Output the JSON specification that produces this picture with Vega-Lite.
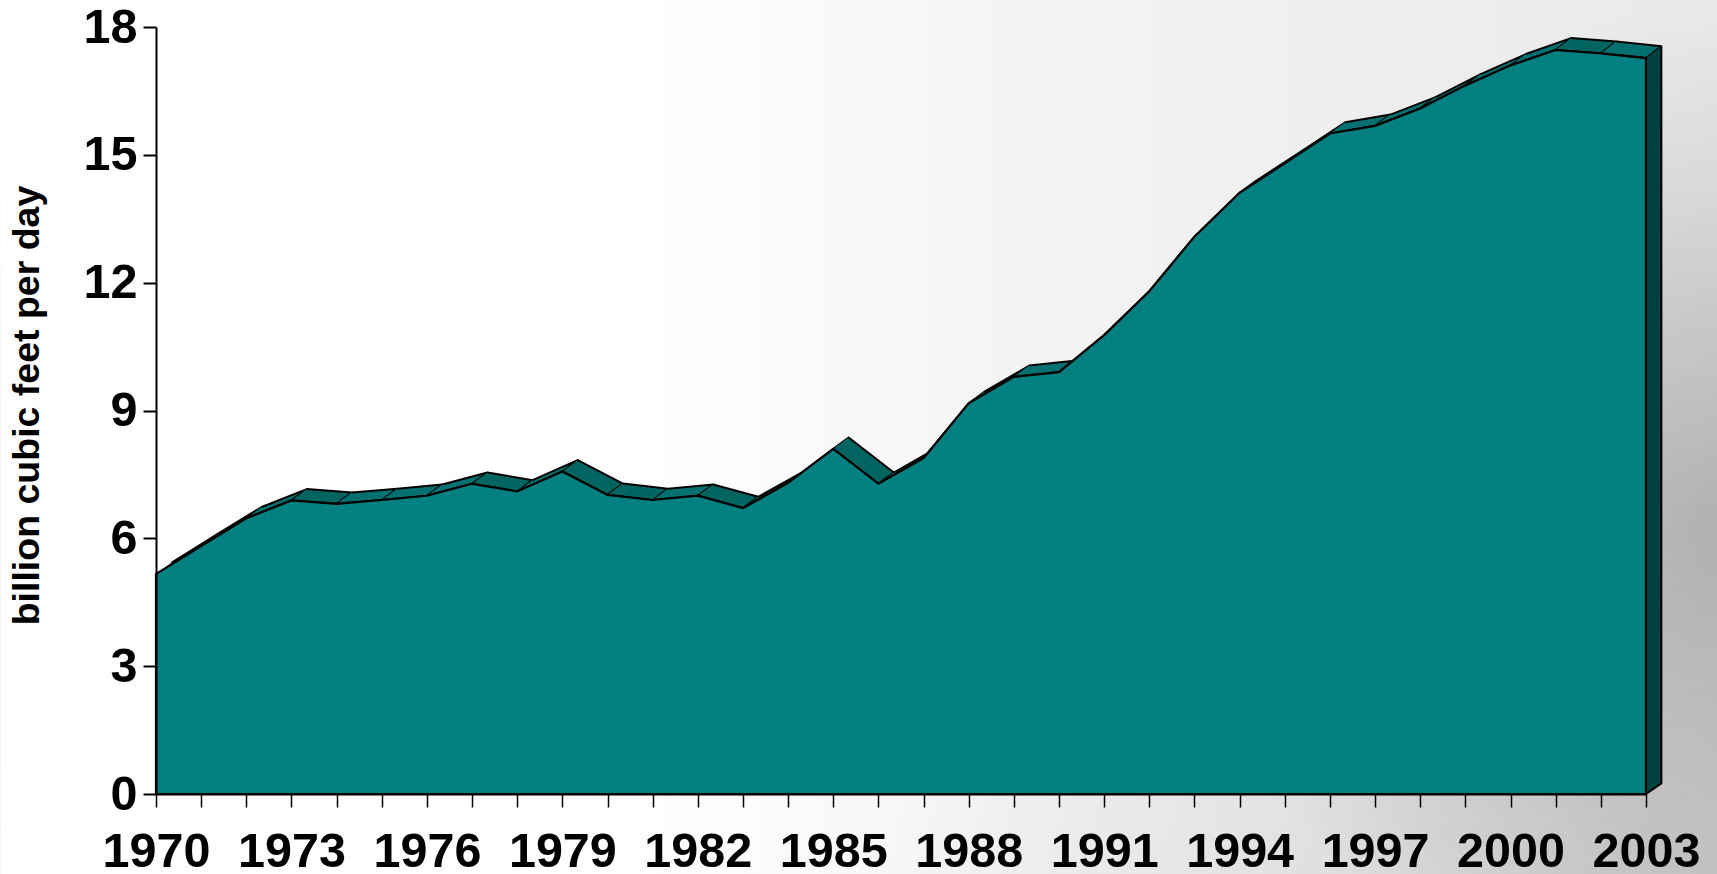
{"$schema":"https://vega.github.io/schema/vega-lite/v6.json","autosize":"none","width":1490,"height":767,"padding":{"left":156,"top":27,"right":71,"bottom":80},"background":"white","config":{"view":{"stroke":null},"font":"Liberation Sans"},
"datasets":{
"bg":[{"x0":1966.55,"x1":2004.58,"y0":-1.88,"y1":18.64}],
"gas":[{"year":1970,"value":5.16},{"year":1971,"value":5.82},{"year":1972,"value":6.47},{"year":1973,"value":6.89},{"year":1974,"value":6.81},{"year":1975,"value":6.9},{"year":1976,"value":7.0},{"year":1977,"value":7.28},{"year":1978,"value":7.1},{"year":1979,"value":7.57},{"year":1980,"value":7.02},{"year":1981,"value":6.9},{"year":1982,"value":7.0},{"year":1983,"value":6.71},{"year":1984,"value":7.3},{"year":1985,"value":8.1},{"year":1986,"value":7.28},{"year":1987,"value":7.88},{"year":1988,"value":9.17},{"year":1989,"value":9.79},{"year":1990,"value":9.9},{"year":1991,"value":10.77},{"year":1992,"value":11.8},{"year":1993,"value":13.08},{"year":1994,"value":14.11},{"year":1995,"value":14.8},{"year":1996,"value":15.5},{"year":1997,"value":15.68},{"year":1998,"value":16.09},{"year":1999,"value":16.63},{"year":2000,"value":17.1},{"year":2001,"value":17.46},{"year":2002,"value":17.38},{"year":2003,"value":17.27}],
"faces":[
{"s":1970,"o":1,"x":1970,"y":5.16,"f":"up"},{"s":1970,"o":2,"x":1971,"y":5.82,"f":"up"},{"s":1970,"o":3,"x":1971.34,"y":6.085,"f":"up"},{"s":1970,"o":4,"x":1970.34,"y":5.425,"f":"up"},
{"s":1971,"o":1,"x":1971,"y":5.82,"f":"up"},{"s":1971,"o":2,"x":1972,"y":6.47,"f":"up"},{"s":1971,"o":3,"x":1972.34,"y":6.735,"f":"up"},{"s":1971,"o":4,"x":1971.34,"y":6.085,"f":"up"},
{"s":1972,"o":1,"x":1972,"y":6.47,"f":"up"},{"s":1972,"o":2,"x":1973,"y":6.89,"f":"up"},{"s":1972,"o":3,"x":1973.34,"y":7.155,"f":"up"},{"s":1972,"o":4,"x":1972.34,"y":6.735,"f":"up"},
{"s":1973,"o":1,"x":1973,"y":6.89,"f":"down"},{"s":1973,"o":2,"x":1974,"y":6.81,"f":"down"},{"s":1973,"o":3,"x":1974.34,"y":7.075,"f":"down"},{"s":1973,"o":4,"x":1973.34,"y":7.155,"f":"down"},
{"s":1974,"o":1,"x":1974,"y":6.81,"f":"up"},{"s":1974,"o":2,"x":1975,"y":6.9,"f":"up"},{"s":1974,"o":3,"x":1975.34,"y":7.165,"f":"up"},{"s":1974,"o":4,"x":1974.34,"y":7.075,"f":"up"},
{"s":1975,"o":1,"x":1975,"y":6.9,"f":"up"},{"s":1975,"o":2,"x":1976,"y":7.0,"f":"up"},{"s":1975,"o":3,"x":1976.34,"y":7.265,"f":"up"},{"s":1975,"o":4,"x":1975.34,"y":7.165,"f":"up"},
{"s":1976,"o":1,"x":1976,"y":7.0,"f":"up"},{"s":1976,"o":2,"x":1977,"y":7.28,"f":"up"},{"s":1976,"o":3,"x":1977.34,"y":7.545,"f":"up"},{"s":1976,"o":4,"x":1976.34,"y":7.265,"f":"up"},
{"s":1977,"o":1,"x":1977,"y":7.28,"f":"down"},{"s":1977,"o":2,"x":1978,"y":7.1,"f":"down"},{"s":1977,"o":3,"x":1978.34,"y":7.365,"f":"down"},{"s":1977,"o":4,"x":1977.34,"y":7.545,"f":"down"},
{"s":1978,"o":1,"x":1978,"y":7.1,"f":"up"},{"s":1978,"o":2,"x":1979,"y":7.57,"f":"up"},{"s":1978,"o":3,"x":1979.34,"y":7.835,"f":"up"},{"s":1978,"o":4,"x":1978.34,"y":7.365,"f":"up"},
{"s":1979,"o":1,"x":1979,"y":7.57,"f":"down"},{"s":1979,"o":2,"x":1980,"y":7.02,"f":"down"},{"s":1979,"o":3,"x":1980.34,"y":7.285,"f":"down"},{"s":1979,"o":4,"x":1979.34,"y":7.835,"f":"down"},
{"s":1980,"o":1,"x":1980,"y":7.02,"f":"down"},{"s":1980,"o":2,"x":1981,"y":6.9,"f":"down"},{"s":1980,"o":3,"x":1981.34,"y":7.165,"f":"down"},{"s":1980,"o":4,"x":1980.34,"y":7.285,"f":"down"},
{"s":1981,"o":1,"x":1981,"y":6.9,"f":"up"},{"s":1981,"o":2,"x":1982,"y":7.0,"f":"up"},{"s":1981,"o":3,"x":1982.34,"y":7.265,"f":"up"},{"s":1981,"o":4,"x":1981.34,"y":7.165,"f":"up"},
{"s":1982,"o":1,"x":1982,"y":7.0,"f":"down"},{"s":1982,"o":2,"x":1983,"y":6.71,"f":"down"},{"s":1982,"o":3,"x":1983.34,"y":6.975,"f":"down"},{"s":1982,"o":4,"x":1982.34,"y":7.265,"f":"down"},
{"s":1983,"o":1,"x":1983,"y":6.71,"f":"up"},{"s":1983,"o":2,"x":1984,"y":7.3,"f":"up"},{"s":1983,"o":3,"x":1984.34,"y":7.565,"f":"up"},{"s":1983,"o":4,"x":1983.34,"y":6.975,"f":"up"},
{"s":1984,"o":1,"x":1984,"y":7.3,"f":"up"},{"s":1984,"o":2,"x":1985,"y":8.1,"f":"up"},{"s":1984,"o":3,"x":1985.34,"y":8.365,"f":"up"},{"s":1984,"o":4,"x":1984.34,"y":7.565,"f":"up"},
{"s":1985,"o":1,"x":1985,"y":8.1,"f":"down"},{"s":1985,"o":2,"x":1986,"y":7.28,"f":"down"},{"s":1985,"o":3,"x":1986.34,"y":7.545,"f":"down"},{"s":1985,"o":4,"x":1985.34,"y":8.365,"f":"down"},
{"s":1986,"o":1,"x":1986,"y":7.28,"f":"up"},{"s":1986,"o":2,"x":1987,"y":7.88,"f":"up"},{"s":1986,"o":3,"x":1987.34,"y":8.145,"f":"up"},{"s":1986,"o":4,"x":1986.34,"y":7.545,"f":"up"},
{"s":1987,"o":1,"x":1987,"y":7.88,"f":"up"},{"s":1987,"o":2,"x":1988,"y":9.17,"f":"up"},{"s":1987,"o":3,"x":1988.34,"y":9.435,"f":"up"},{"s":1987,"o":4,"x":1987.34,"y":8.145,"f":"up"},
{"s":1988,"o":1,"x":1988,"y":9.17,"f":"up"},{"s":1988,"o":2,"x":1989,"y":9.79,"f":"up"},{"s":1988,"o":3,"x":1989.34,"y":10.055,"f":"up"},{"s":1988,"o":4,"x":1988.34,"y":9.435,"f":"up"},
{"s":1989,"o":1,"x":1989,"y":9.79,"f":"up"},{"s":1989,"o":2,"x":1990,"y":9.9,"f":"up"},{"s":1989,"o":3,"x":1990.34,"y":10.165,"f":"up"},{"s":1989,"o":4,"x":1989.34,"y":10.055,"f":"up"},
{"s":1990,"o":1,"x":1990,"y":9.9,"f":"up"},{"s":1990,"o":2,"x":1991,"y":10.77,"f":"up"},{"s":1990,"o":3,"x":1991.34,"y":11.035,"f":"up"},{"s":1990,"o":4,"x":1990.34,"y":10.165,"f":"up"},
{"s":1991,"o":1,"x":1991,"y":10.77,"f":"up"},{"s":1991,"o":2,"x":1992,"y":11.8,"f":"up"},{"s":1991,"o":3,"x":1992.34,"y":12.065,"f":"up"},{"s":1991,"o":4,"x":1991.34,"y":11.035,"f":"up"},
{"s":1992,"o":1,"x":1992,"y":11.8,"f":"up"},{"s":1992,"o":2,"x":1993,"y":13.08,"f":"up"},{"s":1992,"o":3,"x":1993.34,"y":13.345,"f":"up"},{"s":1992,"o":4,"x":1992.34,"y":12.065,"f":"up"},
{"s":1993,"o":1,"x":1993,"y":13.08,"f":"up"},{"s":1993,"o":2,"x":1994,"y":14.11,"f":"up"},{"s":1993,"o":3,"x":1994.34,"y":14.375,"f":"up"},{"s":1993,"o":4,"x":1993.34,"y":13.345,"f":"up"},
{"s":1994,"o":1,"x":1994,"y":14.11,"f":"up"},{"s":1994,"o":2,"x":1995,"y":14.8,"f":"up"},{"s":1994,"o":3,"x":1995.34,"y":15.065,"f":"up"},{"s":1994,"o":4,"x":1994.34,"y":14.375,"f":"up"},
{"s":1995,"o":1,"x":1995,"y":14.8,"f":"up"},{"s":1995,"o":2,"x":1996,"y":15.5,"f":"up"},{"s":1995,"o":3,"x":1996.34,"y":15.765,"f":"up"},{"s":1995,"o":4,"x":1995.34,"y":15.065,"f":"up"},
{"s":1996,"o":1,"x":1996,"y":15.5,"f":"up"},{"s":1996,"o":2,"x":1997,"y":15.68,"f":"up"},{"s":1996,"o":3,"x":1997.34,"y":15.945,"f":"up"},{"s":1996,"o":4,"x":1996.34,"y":15.765,"f":"up"},
{"s":1997,"o":1,"x":1997,"y":15.68,"f":"up"},{"s":1997,"o":2,"x":1998,"y":16.09,"f":"up"},{"s":1997,"o":3,"x":1998.34,"y":16.355,"f":"up"},{"s":1997,"o":4,"x":1997.34,"y":15.945,"f":"up"},
{"s":1998,"o":1,"x":1998,"y":16.09,"f":"up"},{"s":1998,"o":2,"x":1999,"y":16.63,"f":"up"},{"s":1998,"o":3,"x":1999.34,"y":16.895,"f":"up"},{"s":1998,"o":4,"x":1998.34,"y":16.355,"f":"up"},
{"s":1999,"o":1,"x":1999,"y":16.63,"f":"up"},{"s":1999,"o":2,"x":2000,"y":17.1,"f":"up"},{"s":1999,"o":3,"x":2000.34,"y":17.365,"f":"up"},{"s":1999,"o":4,"x":1999.34,"y":16.895,"f":"up"},
{"s":2000,"o":1,"x":2000,"y":17.1,"f":"up"},{"s":2000,"o":2,"x":2001,"y":17.46,"f":"up"},{"s":2000,"o":3,"x":2001.34,"y":17.74,"f":"up"},{"s":2000,"o":4,"x":2000.34,"y":17.365,"f":"up"},
{"s":2001,"o":1,"x":2001,"y":17.46,"f":"down"},{"s":2001,"o":2,"x":2002,"y":17.38,"f":"down"},{"s":2001,"o":3,"x":2002.34,"y":17.66,"f":"down"},{"s":2001,"o":4,"x":2001.34,"y":17.74,"f":"down"},
{"s":2002,"o":1,"x":2002,"y":17.38,"f":"up"},{"s":2002,"o":2,"x":2003,"y":17.27,"f":"up"},{"s":2002,"o":3,"x":2003.34,"y":17.55,"f":"up"},{"s":2002,"o":4,"x":2002.34,"y":17.66,"f":"up"},
{"s":2003,"o":1,"x":2003,"y":17.27,"f":"side"},{"s":2003,"o":2,"x":2003,"y":0,"f":"side"},{"s":2003,"o":3,"x":2003.34,"y":0.25,"f":"side"},{"s":2003,"o":4,"x":2003.34,"y":17.55,"f":"side"}
]},
"layer":[
{"data":{"name":"bg"},"mark":{"type":"rect","clip":false,"strokeWidth":0,"color":{"gradient":"linear","x1":0,"y1":0,"x2":1,"y2":0,"stops":[{"offset":0,"color":"#ffffff"},{"offset":0.37,"color":"#ffffff"},{"offset":0.6,"color":"#f3f3f3"},{"offset":1,"color":"#e9e9e9"}]}},"encoding":{"x":{"field":"x0","type":"quantitative"},"x2":{"field":"x1"},"y":{"field":"y0","type":"quantitative"},"y2":{"field":"y1"}}},
{"data":{"name":"bg"},"mark":{"type":"rect","clip":false,"strokeWidth":0,"color":{"gradient":"radial","x1":1,"y1":0.85,"r1":0,"x2":1,"y2":0.85,"r2":0.5,"stops":[{"offset":0,"color":"rgba(0,0,0,0.15)"},{"offset":0.3,"color":"rgba(0,0,0,0.09)"},{"offset":1,"color":"rgba(0,0,0,0)"}]}},"encoding":{"x":{"field":"x0","type":"quantitative"},"x2":{"field":"x1"},"y":{"field":"y0","type":"quantitative"},"y2":{"field":"y1"}}},
{"data":{"name":"bg"},"mark":{"type":"rect","clip":false,"strokeWidth":0,"color":{"gradient":"radial","x1":1,"y1":0.55,"r1":0,"x2":1,"y2":0.55,"r2":0.3,"stops":[{"offset":0,"color":"rgba(0,0,0,0.2)"},{"offset":1,"color":"rgba(0,0,0,0)"}]}},"encoding":{"x":{"field":"x0","type":"quantitative"},"x2":{"field":"x1"},"y":{"field":"y0","type":"quantitative"},"y2":{"field":"y1"}}},
{"data":{"name":"faces"},"mark":{"type":"line","clip":false,"stroke":"black","strokeWidth":2,"strokeJoin":"round"},"encoding":{"x":{"field":"x","type":"quantitative"},"y":{"field":"y","type":"quantitative"},"detail":{"field":"s"},"order":{"field":"o"},"fill":{"field":"f","type":"nominal","legend":null,"scale":{"domain":["up","down","side"],"range":["#007070","#006460","#004040"]}}}},
{"data":{"name":"gas"},"mark":{"type":"area","clip":false,"color":"#008080","stroke":"black","strokeWidth":2.2},"encoding":{
"x":{"field":"year","type":"quantitative","scale":{"domain":[1970,2003],"nice":false,"zero":false},"axis":{"title":null,"values":[1970,1971,1972,1973,1974,1975,1976,1977,1978,1979,1980,1981,1982,1983,1984,1985,1986,1987,1988,1989,1990,1991,1992,1993,1994,1995,1996,1997,1998,1999,2000,2001,2002,2003],"format":"d","labelExpr":"(datum.value-1970)%3==0?datum.label:''","labelOverlap":false,"labelFlush":false,"labelBound":false,"grid":false,"tickColor":"black","tickWidth":1.5,"tickSize":13,"domainColor":"black","domainWidth":2,"labelFont":"Liberation Sans","labelFontWeight":"bold","labelFontSize":48.5,"labelColor":"black","labelPadding":21,"zindex":1}},
"y":{"field":"value","type":"quantitative","scale":{"domain":[0,18],"nice":false},"axis":{"title":"billion cubic feet per day","values":[0,3,6,9,12,15,18],"grid":false,"tickColor":"black","tickWidth":2,"tickSize":13,"domainColor":"black","domainWidth":2,"labelFont":"Liberation Sans","labelFontWeight":"bold","labelFontSize":48.5,"labelColor":"black","labelPadding":6,"titleFont":"Liberation Sans","titleFontWeight":"bold","titleFontSize":37.5,"titleColor":"black","titleX":-110,"titleY":378,"zindex":1}}}}
]}
